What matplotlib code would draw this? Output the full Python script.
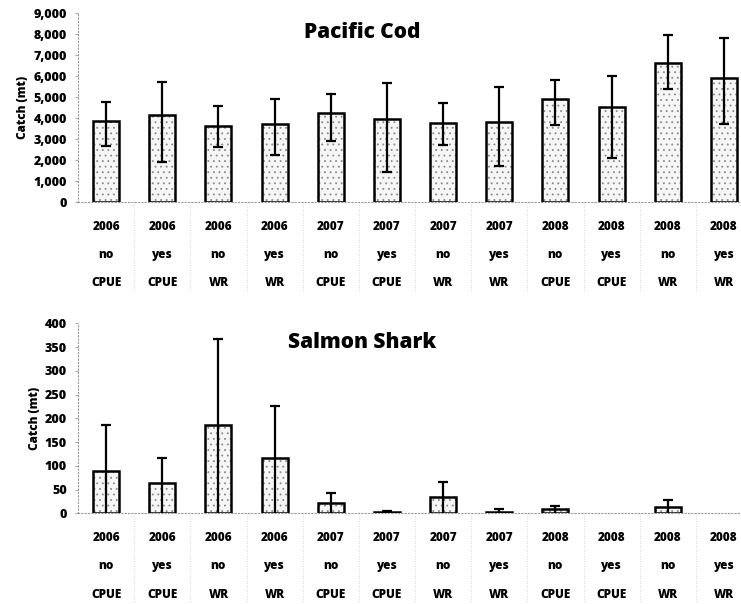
import matplotlib
matplotlib.use("Agg")
import matplotlib.pyplot as plt
import numpy as np
from matplotlib.ticker import StrMethodFormatter

years = ["2006", "2006", "2006", "2006", "2007", "2007", "2007", "2007", "2008", "2008", "2008", "2008"]
observed = ["no", "yes", "no", "yes", "no", "yes", "no", "yes", "no", "yes", "no", "yes"]
method = ["CPUE", "CPUE", "WR", "WR", "CPUE", "CPUE", "WR", "WR", "CPUE", "CPUE", "WR", "WR"]

# Pacific cod catch (mt) with lower / upper error bounds
cod = [3850, 4160, 3650, 3730, 4240, 3950, 3790, 3820, 4920, 4520, 6650, 5900]
cod_lo = [2700, 1930, 2650, 2250, 2920, 1430, 2710, 1730, 3670, 2120, 5380, 3710]
cod_hi = [4790, 5740, 4600, 4920, 5160, 5700, 4710, 5480, 5810, 6030, 7980, 7810]

# Salmon shark catch (mt) with upper error bound (lower end runs below 0)
shark = [90, 63, 185, 116, 22, 3, 34, 3, 9, 0, 13, 0]
shark_hi = [186, 117, 368, 226, 43, 5, 67, 9, 15, 0, 28, 0]

plt.rcParams['font.family'] = ['Open Sans', 'DejaVu Sans']
plt.rcParams['hatch.linewidth'] = 0.6

fig = plt.figure(figsize=(7.41, 6.04), dpi=100)

labels = [f"{y}\n{o}\n{m}" for y, o, m in zip(years, observed, method)]
x = np.arange(len(years))


def draw(ax, vals, lo, hi, ymax, step, title, title_y):
    vals = np.array(vals, dtype=float)
    lo = np.array(lo, dtype=float)
    hi = np.array(hi, dtype=float)
    show = vals > 0
    ax.bar(x[show], vals[show], width=0.46, color="#f6f6f6", edgecolor="#8a8a8a", hatch="...",
           linewidth=0, zorder=1)
    ax.bar(x[show], vals[show], width=0.46, fill=False, edgecolor="black", linewidth=1.8, zorder=2)
    err = [vals[show] - lo[show], hi[show] - vals[show]]
    ax.errorbar(x[show], vals[show], yerr=err, fmt="none", ecolor="black", elinewidth=1.6,
                capsize=3.5, capthick=1.6, zorder=3)
    ax.set_xlim(-0.5, len(years) - 0.5)
    ax.set_ylim(0, ymax)
    ax.set_yticks(np.arange(0, ymax + 1, step))
    ax.yaxis.set_major_formatter(StrMethodFormatter("{x:,.0f}"))
    ax.set_xticks(x)
    ax.set_xticklabels(labels, fontsize=8.5, fontweight="extra bold", linespacing=2.8, va="top")
    ax.tick_params(axis="x", length=0, pad=13.5)
    ax.tick_params(axis="y", length=2, color="#aaaaaa", labelsize=9, pad=6)
    for t in ax.get_yticklabels():
        t.set_fontweight("extra bold")
    for s in ["top", "right"]:
        ax.spines[s].set_visible(False)
    for s in ["left", "bottom"]:
        ax.spines[s].set_color("#999999")
        ax.spines[s].set_linestyle((0, (1, 2)))
        ax.spines[s].set_linewidth(0.8)
    ax.set_ylabel("Catch (mt)", fontsize=8.5, fontweight="extra bold", labelpad=3)
    # faint separators under the category labels
    for b in x[:-1] + 0.5:
        ax.plot([b, b], [0, -0.47], transform=ax.get_xaxis_transform(), clip_on=False,
                color="#c8c8c8", lw=0.6, ls=(0, (1, 2)))
    fig.text(0.489, title_y, title, fontsize=15, fontweight="extra bold", ha="center", va="center")


ax1 = fig.add_axes([78 / 741, 0.665, 674 / 741, 0.313])
draw(ax1, cod, cod_lo, cod_hi, 9000, 1000, "Pacific Cod", 1 - 33 / 604)

ax2 = fig.add_axes([78 / 741, 0.150, 674 / 741, 0.3147])
shark_lo = [-h for h in shark_hi]
draw(ax2, shark, shark_lo, shark_hi, 400, 50, "Salmon Shark", 1 - 342 / 604)

fig.savefig("out.png", dpi=100)
